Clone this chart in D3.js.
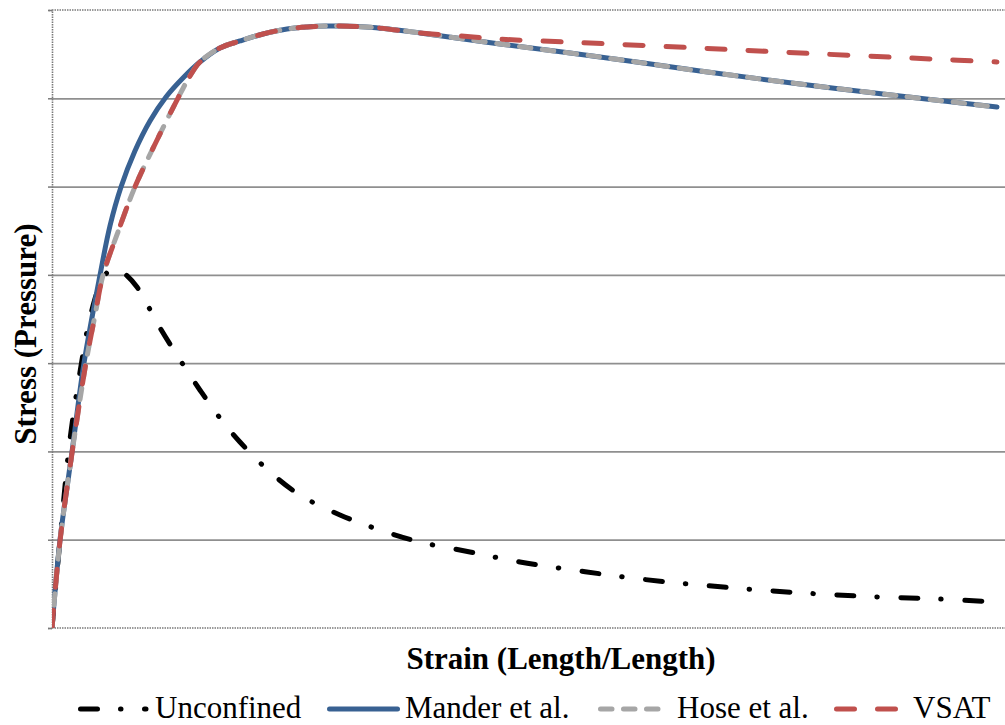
<!DOCTYPE html>
<html>
<head>
<meta charset="utf-8">
<script src="https://cdn.jsdelivr.net/npm/d3@7"></script>
<style>
  body { margin: 0; background: #fff; }
  text { font-family: "Liberation Serif", "Times New Roman", serif; fill: #000; }
</style>
</head>
<body>
<svg id="canvas" width="1005" height="725"></svg>
<script>
// strain (length/length) and stress values
var unconfinedStrain = [0, 0.00042, 0.00094, 0.00147, 0.00199, 0.00252, 0.00304, 0.00346, 0.00383, 0.00446,
  0.00504, 0.00567, 0.00672, 0.00776, 0.00881, 0.00986, 0.01144, 0.01301, 0.01511, 0.01721,
  0.01931, 0.02193, 0.02455, 0.02770, 0.03085, 0.03400, 0.03715, 0.04029, 0.04344, 0.04659, 0.04958]
var unconfinedStress = [0, 9.97, 21.29, 29.00, 35.11, 38.85, 40.55, 40.55, 40.10, 38.62,
  36.47, 33.98, 30.36, 26.96, 23.79, 21.07, 17.67, 15.06, 12.80, 11.10,
  9.74, 8.61, 7.48, 6.46, 5.55, 4.87, 4.30, 3.85, 3.51, 3.28, 2.94]

var manderStrain = [0, 0.00042, 0.00105, 0.00168, 0.00252, 0.00304, 0.00362, 0.00435, 0.00514, 0.00598,
  0.00687, 0.00776, 0.00881, 0.00986, 0.01107, 0.01233, 0.01338, 0.01443, 0.01511, 0.01684,
  0.01931, 0.02350, 0.02875, 0.03400, 0.03924, 0.04449, 0.04958]
var manderStress = [0, 9.97, 19.94, 30.02, 39.98, 45.53, 49.95, 54.03, 57.43, 60.15,
  62.30, 64.11, 65.70, 66.49, 67.28, 67.85, 68.08, 68.19, 68.19, 68.02,
  67.40, 66.15, 64.68, 63.09, 61.62, 60.26, 59.01]

var hoseStrain = [0, 0.00042, 0.00105, 0.00178, 0.00226, 0.00268, 0.00346, 0.00435, 0.00546, 0.00661,
  0.00724, 0.00776, 0.00881, 0.00986, 0.01107, 0.01233, 0.01338, 0.01443, 0.01511, 0.01684,
  0.01931, 0.02350, 0.02875, 0.03400, 0.03924, 0.04449, 0.04958]
var hoseStress = [0, 9.85, 19.82, 30.02, 35.45, 39.98, 44.85, 49.95, 55.05, 60.03,
  62.53, 64.11, 65.70, 66.49, 67.28, 67.85, 68.08, 68.19, 68.19, 68.02,
  67.40, 66.15, 64.68, 63.09, 61.62, 60.26, 59.01]

var vsatStrain = [0, 0.00042, 0.00105, 0.00178, 0.00226, 0.00268, 0.00346, 0.00435, 0.00546, 0.00661,
  0.00724, 0.00776, 0.00881, 0.00986, 0.01107, 0.01233, 0.01338, 0.01443, 0.01511, 0.01684,
  0.01931, 0.02141, 0.02335, 0.02754, 0.03384, 0.04014, 0.04649, 0.04958]
var vsatStress = [0, 9.85, 19.82, 30.02, 35.45, 39.98, 44.85, 49.95, 55.05, 60.03,
  62.53, 64.11, 65.70, 66.49, 67.28, 67.85, 68.08, 68.19, 68.19, 68.02,
  67.40, 67.06, 66.72, 66.32, 65.70, 65.04, 64.42, 64.11]

var seriesNames = ['Unconfined', 'Mander et al.', 'Hose et al.', 'VSAT']
var stressTicks = [0, 10, 20, 30, 40, 50, 60, 70]

// note: "top" is taken by window.top, so plot edges get their own names
var plotL = 52, plotR = 1005, plotT = 10, plotB = 628

var x = d3.scaleLinear().domain([0, 0.05]).range([plotL, plotR])
var y = d3.scaleLinear().domain([0, 70]).range([plotB, plotT])

var svg = d3.select('#canvas')

// gridlines
svg.append('g')
  .attr('transform', 'translate(' + plotL + ',0)')
  .call(d3.axisLeft(y).tickValues(stressTicks.slice(1, -1)).tickSize(-(plotR - plotL)).tickFormat(''))
  .call(g => g.select('.domain').remove())
  .selectAll('line')
  .attr('stroke', '#8f8f8f')
  .attr('stroke-width', 1.8)

// axes (dotted grey like the original)
var yAxis = svg.append('g')
  .attr('transform', 'translate(' + plotL + ',0)')
  .call(d3.axisLeft(y).tickValues(stressTicks).tickSize(4).tickFormat(''))
yAxis.select('.domain').attr('stroke', '#7a7a7a').attr('stroke-width', 1.6).attr('stroke-dasharray', '1.5,1')
yAxis.selectAll('.tick line').attr('stroke', '#7a7a7a').attr('stroke-width', 1.5)

svg.append('line')
  .attr('x1', plotL).attr('x2', plotR).attr('y1', y(0)).attr('y2', y(0))
  .attr('stroke', '#7a7a7a').attr('stroke-width', 1.6).attr('stroke-dasharray', '1.5,1')
svg.append('line')
  .attr('x1', plotL).attr('x2', plotR).attr('y1', y(70)).attr('y2', y(70))
  .attr('stroke', '#7a7a7a').attr('stroke-width', 1.6).attr('stroke-dasharray', '1.5,1')

svg.append('clipPath').attr('id', 'plot')
  .append('rect').attr('x', plotL).attr('y', plotT - 5).attr('width', plotR - plotL).attr('height', plotB - plotT + 5)

var series = [
  {name: seriesNames[0], xs: unconfinedStrain, ys: unconfinedStress, color: '#000000', dash: '17,23,0.5,23.5'},
  {name: seriesNames[1], xs: manderStrain, ys: manderStress, color: '#386192', dash: null},
  {name: seriesNames[2], xs: hoseStrain, ys: hoseStress, color: '#a6a6a6', dash: '11.5,11.5'},
  {name: seriesNames[3], xs: vsatStrain, ys: vsatStress, color: '#c0504d', dash: '18,23'}
]

// centripetal catmull-rom copes with the near vertical rise better than monotoneX
var line = d3.line()
  .x(d => x(d[0]))
  .y(d => y(d[1]))
  .curve(d3.curveCatmullRom.alpha(0.5))

svg.append('g').attr('clip-path', 'url(#plot)')
  .selectAll('path')
  .data(series)
  .enter()
  .append('path')
  .attr('d', d => line(d.xs.map((v, i) => [v, d.ys[i]])))
  .attr('fill', 'none')
  .attr('stroke', d => d.color)
  .attr('stroke-width', 5)
  .attr('stroke-linecap', 'round')
  .attr('stroke-linejoin', 'round')
  .attr('stroke-dasharray', d => d.dash)

// axis titles
svg.append('text')
  .attr('x', 561).attr('y', 669)
  .attr('text-anchor', 'middle')
  .attr('font-size', 31).attr('font-weight', 'bold')
  .text('Strain (Length/Length)')

svg.append('text')
  .attr('transform', 'translate(36,334) rotate(-90)')
  .attr('text-anchor', 'middle')
  .attr('font-size', 31).attr('font-weight', 'bold')
  .text('Stress (Pressure)')

// legend
var legendPos = [
  {x1: 80.5, x2: 146, tx: 155},
  {x1: 329.5, x2: 397.5, tx: 405},
  {x1: 600.5, x2: 659, tx: 677},
  {x1: 836.5, x2: 896, tx: 913}
]

var lg = svg.append('g').selectAll('g')
  .data(series)
  .enter()
  .append('g')

lg.append('line')
  .attr('x1', (d, i) => legendPos[i].x1)
  .attr('x2', (d, i) => legendPos[i].x2)
  .attr('y1', 709).attr('y2', 709)
  .attr('stroke', d => d.color)
  .attr('stroke-width', 5)
  .attr('stroke-linecap', 'round')
  .attr('stroke-dasharray', d => d.dash)

lg.append('text')
  .attr('x', (d, i) => legendPos[i].tx)
  .attr('y', 718)
  .attr('font-size', 31)
  .text(d => d.name)
</script>
</body>
</html>
